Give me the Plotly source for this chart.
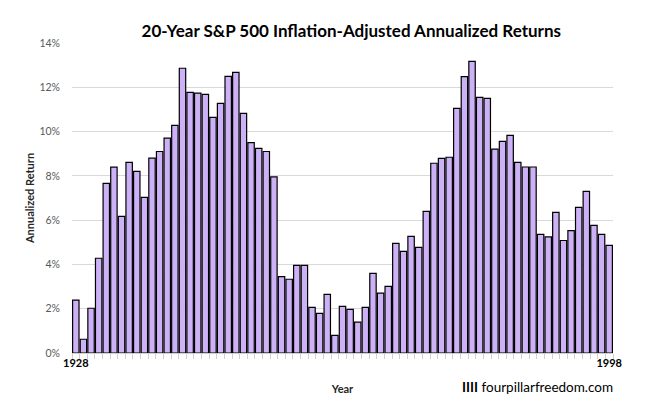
import plotly.graph_objects as go

years = list(range(1928, 1999))
returns = [
    2.39, 0.62, 2.02, 4.28, 7.66, 8.39, 6.17, 8.61, 8.20, 7.03,
    8.80, 9.10, 9.70, 10.28, 12.86, 11.77, 11.74, 11.68, 10.64, 11.27,
    12.49, 12.67, 10.82, 9.50, 9.24, 9.10, 7.95, 3.45, 3.33, 3.96,
    3.96, 2.06, 1.79, 2.65, 0.80, 2.11, 1.97, 1.39, 2.06, 3.60,
    2.70, 3.01, 4.95, 4.59, 5.27, 4.77, 6.40, 8.57, 8.79, 8.84,
    11.05, 12.48, 13.17, 11.54, 11.50, 9.21, 9.56, 9.83, 8.61, 8.40,
    8.40, 5.36, 5.24, 6.35, 5.08, 5.53, 6.58, 7.30, 5.76, 5.36,
    4.86,
]
y_ticks = [0, 2, 4, 6, 8, 10, 12, 14]
y_labels = [f"{v}%" for v in y_ticks]
x_labels = [str(y) if y in (years[0], years[-1]) else "" for y in years]

FONT = "Lato"

fig = go.Figure(
    go.Bar(
        x=[str(y) for y in years],
        y=returns,
        marker=dict(color="#CDB1F7", line=dict(color="#000000", width=1.2)),
        hoverinfo="x+y",
    )
)

fig.update_layout(
    width=647,
    height=413,
    margin=dict(l=72, r=34, t=43, b=60, autoexpand=False),
    paper_bgcolor="white",
    plot_bgcolor="white",
    bargap=0.16,
    showlegend=False,
    title=dict(
        text="<b>20-Year S&P 500 Inflation-Adjusted Annualized Returns</b>",
        x=0.543, xanchor="center", y=0.925, yanchor="middle",
        font=dict(family=FONT, size=17, color="#000000"),
    ),
    font=dict(family=FONT, color="#595959", size=10),
)

fig.update_xaxes(
    type="category",
    automargin=False,
    tickmode="array",
    tickvals=[str(y) for y in years],
    ticktext=x_labels,
    tickangle=0,
    tickson="boundaries",
    ticks="outside",
    ticklen=5,
    tickcolor="#D0D0D0",
    tickwidth=1,
    tickfont=dict(family=FONT, size=11, color="#000000", weight="bold"),
    showline=True,
    linecolor="#D0D0D0",
    linewidth=1,
    showgrid=False,
    range=[-0.5, len(years) - 0.5],
    title=dict(text="Year", font=dict(family=FONT, size=11, color="#262626", weight="bold"), standoff=17),
)

fig.update_yaxes(
    automargin=False,
    range=[0, 14],
    tickmode="array",
    tickvals=y_ticks,
    ticktext=y_labels,
    tickfont=dict(family=FONT, size=10.5, color="#595959"),
    showgrid=True,
    gridcolor="#D9D9D9",
    gridwidth=1,
    zeroline=False,
    ticks="",
    ticklabelstandoff=11,
    title=dict(text="Annualized Return", font=dict(family=FONT, size=11, color="#262626", weight="bold"), standoff=2),
)

fig.add_annotation(
    text="<b>IIII</b> fourpillarfreedom.com",
    xref="paper", yref="paper",
    x=1.004, y=-0.11, xanchor="right", yanchor="middle",
    showarrow=False,
    font=dict(family=FONT, size=13.5, color="#000000"),
)

fig.write_html(
    "out.html",
    config={"displayModeBar": False},
    post_script="document.body.style.margin='0';document.body.style.overflow='hidden';",
)
